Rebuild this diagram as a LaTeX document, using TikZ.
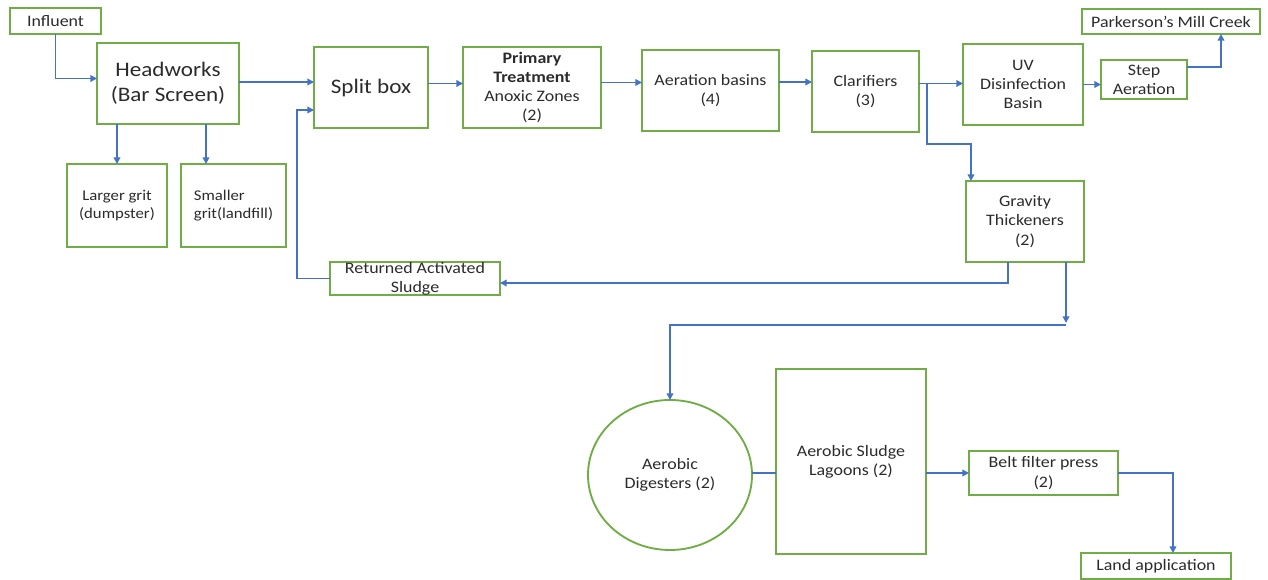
\documentclass[tikz,border=0pt]{standalone}
\usepackage{fontspec}
\setmainfont{Carlito}[FakeStretch=1.12]
\usetikzlibrary{arrows.meta,calc,shapes.geometric}
\definecolor{boxgreen}{HTML}{70AD47}
\definecolor{flowblue}{HTML}{4472C4}
\definecolor{txt}{HTML}{2B2B2B}
\newcommand\mybox[7][]{%
  \pgfmathsetmacro\bw{(#5-#3)*0.75}\pgfmathsetmacro\bh{(#6-#4)*0.75}%
  \node[box,minimum width=\bw pt,minimum height=\bh pt,#1] (#2) at ({(#3+#5)/2},{(#4+#6)/2}) {#7};}
\begin{document}
\begin{tikzpicture}[x=0.75pt,y=-0.75pt,
  box/.style={draw=boxgreen,line width=1.4pt,inner sep=0pt,outer sep=0pt,align=center,text=txt,font=\fontsize{12}{14.4}\selectfont},
  big/.style={font=\fontsize{15.5}{19}\selectfont},
  small/.style={font=\fontsize{11.2}{13.5}\selectfont},
  flow/.style={draw=flowblue,line width=1.1pt,-{Triangle[length=5pt,width=5pt]}},
  link/.style={draw=flowblue,line width=1.1pt}]
\useasboundingbox (0,0) rectangle (1268,580);
\mybox{infl}{10}{8}{101}{34}{Influent}
\mybox[big]{head}{97}{43}{239}{124}{Headworks\\(Bar Screen)}
\mybox[small]{lg}{67}{164}{167}{247}{Larger grit\\(dumpster)}
\mybox[small,align=left]{sg}{181}{164}{286}{247}{Smaller\\grit(landfill)}
\mybox[big]{split}{314}{47}{428}{128}{Split box}
\mybox{prim}{463}{47}{601}{128}{\textbf{Primary}\\\textbf{Treatment}\\Anoxic Zones\\(2)}
\mybox{aer}{642}{50}{779}{131}{Aeration basins\\(4)}
\mybox{clar}{812}{51}{919}{132}{Clarifiers\\(3)}
\mybox{uv}{963}{44}{1083}{125}{UV\\Disinfection\\Basin}
\mybox{step}{1101}{60}{1187}{99}{Step\\Aeration}
\mybox{park}{1082}{9}{1260}{34}{Parkerson’s Mill Creek}
\mybox{grav}{966}{181}{1084}{262}{Gravity\\Thickeners\\(2)}
\mybox{ras}{330}{262}{500}{295}{\parbox[c][10pt][c]{120pt}{\centering Returned Activated\\Sludge}}
\node[box,ellipse,minimum width=123pt,minimum height=112.5pt] (dig) at (670,475) {Aerobic\\Digesters (2)};
\mybox{lag}{776}{369}{926}{554}{Aerobic Sludge\\Lagoons (2)}
\mybox{belt}{969}{451}{1118}{495}{Belt filter press\\(2)}
\mybox{land}{1081}{553}{1231}{579}{Land application}
% connectors
\draw[flow] (infl.south) |- ($(head.west)+(0,-5)$);
\draw[flow] ($(head.east)+(0,-1.5)$) -- ($(head.east -| split.west)+(0,-1.5)$);
\draw[flow] (lg.north |- head.south) -- (lg.north);
\coordinate (sgin) at ($(sg.north west)+(25,0)$);
\draw[flow] (sgin |- head.south) -- (sgin);
\draw[flow] ($(split.east)+(0,-4)$) -- ($(split.east -| prim.west)+(0,-4)$);
\draw[flow] ($(prim.east)+(0,-5)$) -- ($(prim.east -| aer.west)+(0,-5)$);
\draw[flow] ($(aer.east)+(0,-8.5)$) -- ($(aer.east -| clar.west)+(0,-8.5)$);
\coordinate (cl) at ($(clar.east)+(0,-8)$);
\draw[flow] (cl) -- (cl -| uv.west);
\coordinate (cb) at ($(cl)+(8,0)$);
\coordinate (gin) at ($(grav.north west)+(5,0)$);
\draw[flow] (cb) |- ($(gin)+(0,-37)$) -- (gin);
\draw[flow] (uv.east) -- (uv.east -| step.west);
\coordinate (pin) at ($(park.south west)+(139,0)$);
\draw[flow] ($(step.east)+(0,-12.5)$) -| (pin);
\coordinate (g1) at ($(grav.south west)+(42,0)$);
\draw[flow] (g1) |- ($(ras.east)+(0,4.5)$);
\coordinate (rin) at ($(split.west)+(0,22.5)$);
\draw[flow] (ras.west) -| ($(rin)+(-17,0)$) -- (rin);
\coordinate (g2) at ($(grav.south west)+(100,0)$);
\coordinate (gj) at ($(g2)+(0,61)$);
\draw[flow] (g2) -- (gj);
\draw[flow] ($(gj)+(0,2)$) -| (dig.north);
\draw[link] ($(dig.east)+(0,-2)$) -- ($(dig.east -| lag.west)+(0,-2)$);
\draw[flow] (belt.west -| lag.east) -- (belt.west);
\coordinate (lin) at ($(land.north)+(17,0)$);
\draw[flow] (belt.east) -| (lin);
\end{tikzpicture}
\end{document}
